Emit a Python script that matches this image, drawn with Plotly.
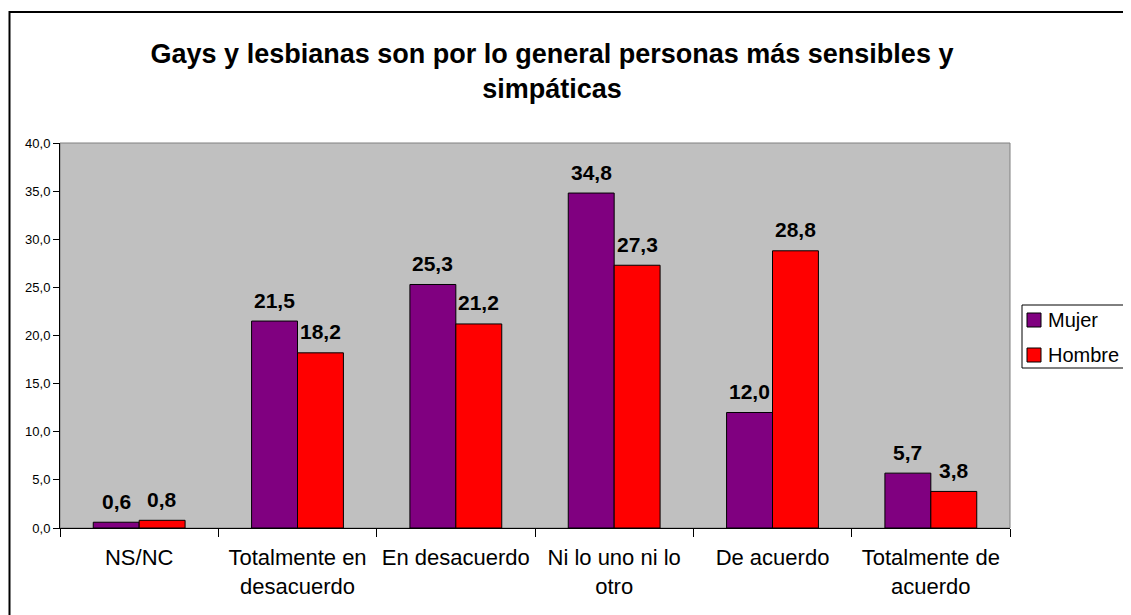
import plotly.graph_objects as go

categories = ["NS/NC", "Totalmente en<br>desacuerdo", "En desacuerdo",
              "Ni lo uno ni lo<br>otro", "De acuerdo", "Totalmente de<br>acuerdo"]
mujer = [0.6, 21.5, 25.3, 34.8, 12.0, 5.7]
hombre = [0.8, 18.2, 21.2, 27.3, 28.8, 3.8]
series = [("Mujer", mujer, "#800080"), ("Hombre", hombre, "#FF0000")]
y_ticks = [0, 5, 10, 15, 20, 25, 30, 35, 40]

# page body has an 8px margin, so the figure is a bit smaller than the window
OFF = 8
W, H = 1131 - OFF, 615 - OFF
L, R, T, B = 60, 1010, 143, 528  # plot area in screen pixels
pw, ph = R - L, B - T


def px(x):
    return (x - L) / pw


def py(y):
    return (B - y) / ph


def fmt(v):
    return f"{v:.1f}".replace(".", ",")


fig = go.Figure()
for name, vals, col in series:
    fig.add_trace(go.Bar(
        x=categories, y=vals, name=name,
        marker=dict(color=col, line=dict(color="black", width=1)),
        showlegend=False,
    ))

# value labels above the bars
for i, (name, vals, col) in enumerate(series):
    for c, v in zip(categories, vals):
        fig.add_annotation(
            x=c, y=v, text=f"<b>{fmt(v)}</b>", showarrow=False,
            xshift=-23 if i == 0 else 23, yshift=21, yanchor="middle",
            font=dict(family="Arial", size=21, color="black"),
        )

# plot area border and outer chart frame
fig.add_shape(type="rect", xref="paper", yref="paper", x0=0, x1=1, y0=0, y1=1,
              line=dict(color="#808080", width=1), layer="below")
fig.add_shape(type="rect", xref="paper", yref="paper",
              x0=px(9.5), x1=px(1145), y0=py(640), y1=py(12),
              line=dict(color="black", width=2))

# legend box drawn by hand
fig.add_shape(type="rect", xref="paper", yref="paper",
              x0=px(1022), x1=px(1129), y0=py(368), y1=py(305),
              line=dict(color="black", width=1), fillcolor="white")
for (name, vals, col), yc in zip(series, [320, 355]):
    fig.add_shape(type="rect", xref="paper", yref="paper",
                  x0=px(1027), x1=px(1041), y0=py(yc + 7), y1=py(yc - 7),
                  line=dict(color="black", width=1), fillcolor=col)
    fig.add_annotation(xref="paper", yref="paper", x=px(1046), y=py(yc),
                       text=name, showarrow=False, xanchor="left", yanchor="middle",
                       font=dict(family="Arial", size=20, color="black"))

fig.update_layout(
    width=W, height=H,
    margin=dict(l=L - OFF, r=W - (R - OFF), t=T - OFF, b=H - (B - OFF)),
    paper_bgcolor="white", plot_bgcolor="#C0C0C0",
    separators=", ",
    barmode="group", bargap=0.42, bargroupgap=0,
    font=dict(family="Arial", color="black"),
    title=dict(text="<b>Gays y lesbianas son por lo general personas más sensibles y<br>simpáticas</b>",
               x=(552 - OFF) / W, xanchor="center", y=1 - (63 - OFF) / H, yanchor="middle",
               font=dict(size=27, family="Arial", color="black")),
    showlegend=False,
)
fig.update_xaxes(
    showline=True, linecolor="black", linewidth=1,
    ticks="outside", tickson="boundaries", ticklen=8, tickcolor="black",
    tickfont=dict(size=22, family="Arial"), showgrid=False,
    ticklabelstandoff=10,
)
fig.update_yaxes(
    range=[0, 40], tickvals=y_ticks, tickformat=".1f",
    showline=True, linecolor="black", linewidth=1,
    ticks="outside", ticklen=6, tickcolor="black",
    tickfont=dict(size=13, family="Arial"), showgrid=False, zeroline=False,
)

fig.write_html("out.html")
